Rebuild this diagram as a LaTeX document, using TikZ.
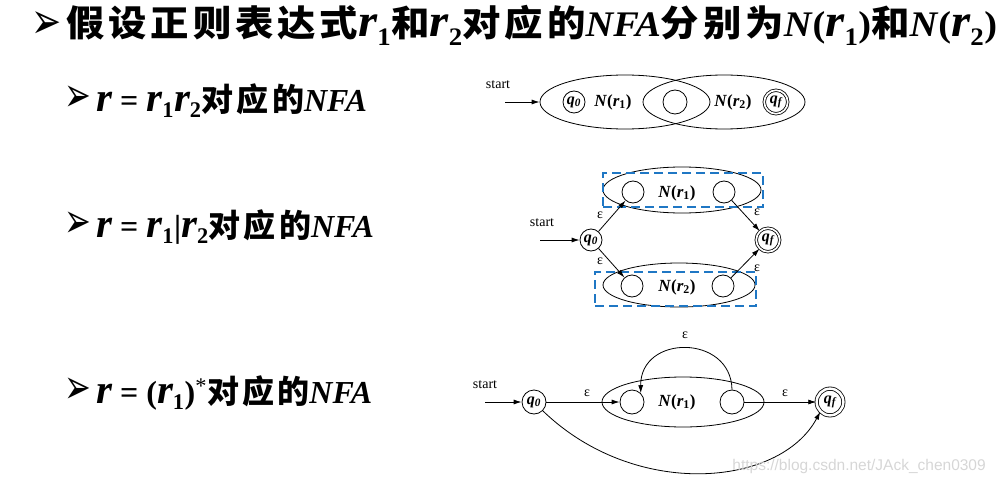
\documentclass[tikz,border=0pt]{standalone}
\usepackage{fontspec}
\usetikzlibrary{arrows.meta,shapes.geometric}
\setmainfont{Liberation Serif}
\newfontfamily\cjk[LetterSpace=10]{Noto Sans CJK SC}
\newfontfamily\dv{DejaVu Sans}
\newfontfamily\wm{Liberation Sans}
\definecolor{dashblue}{RGB}{31,119,196}
\newcommand\bi[1]{{\bfseries\itshape #1}}
\newcommand\R{\scalebox{1.28}{\bi{r}}}
\newcommand\sbb[1]{\textsubscript{\bfseries\upshape #1}}
\newcommand\ch[1]{{\cjk\bfseries #1}}
\newcommand\bul{\scalebox{1}[1.5]{\dv ➢}}
\newcommand\qz{\bi{q}\textsubscript{\bfseries\itshape 0}}
\newcommand\qf{\bi{q}\textsubscript{\bfseries\itshape f}}
\newcommand\Nr[1]{\bi{N}\textbf{(}\bi{r}\textsubscript{\bfseries #1}\textbf{)}}
\newcommand\NR[1]{\bi{N}\textbf{(}\R\sbb{#1}\textbf{)}}
\begin{document}
\begin{tikzpicture}[x=1pt,y=-1pt,line width=0.8pt,
  st/.style={circle,draw,minimum size=22pt,inner sep=0pt,font=\fontsize{16}{16}\selectfont},
  acc/.style={st,double,double distance=1.7pt,minimum size=23.5pt},
  lbl/.style={font=\fontsize{17}{17}\selectfont,inner sep=0pt},
  eps/.style={font=\fontsize{14}{14}\selectfont,inner sep=0pt},
  stt/.style={font=\fontsize{14}{14}\selectfont,inner sep=0pt},
  box/.style={draw,ellipse,inner sep=0pt},
  blu/.style={draw=dashblue,dash pattern=on 9pt off 5pt,line width=2pt,inner sep=0pt},
  arr/.style={-{Latex[length=8pt,width=5pt]}},
  head/.style={anchor=base west,inner sep=0pt}]
\useasboundingbox (0,0) rectangle (1000,484);
% title
\node[head,font=\fontsize{36}{40}\selectfont] (title) at (31,37)
 {\raisebox{-2pt}{\scalebox{1}[1.4]{\dv ➢}}\hspace{5pt}\scalebox{1.066}[1]{\ch{假设正则表达式}\R\sbb{1}\ch{和}\R\sbb{2}\ch{对应的}\bi{NFA}\ch{分别为}\NR{1}\ch{和}\NR{2}}};
% subtitles
\node[head,font=\fontsize{32}{34}\selectfont] (l1) at (64,111)
 {\bul\hspace{5pt}\R{} \textbf{=} \R\sbb{1}\R\sbb{2}\ch{对应的}\bi{NFA}};
\node[head,font=\fontsize{32}{34}\selectfont] (l2) at (64,237)
 {\bul\hspace{5pt}\R{} \textbf{=} \R\sbb{1}\textbf{|}\R\sbb{2}\ch{对应的}\bi{NFA}};
\node[head,font=\fontsize{32}{34}\selectfont] (l3) at (64,403)
 {\bul\hspace{5pt}\R{} \textbf{=} \textbf{(}\R\sbb{1}\textbf{)}\textsuperscript{*}\ch{对应的}\bi{NFA}};
% diagram 1: concatenation
\node[stt] (st1) at (498,85) {start};
\coordinate (s1) at (505,102);
\node[box,minimum width=170pt,minimum height=54pt] (e1a) at (625,102) {};
\node[box,minimum width=162pt,minimum height=54pt] (e1b) at (724,102) {};
\node[st] (d1q0) at (574,102) {\qz};
\node[st,minimum size=24pt] (d1m) at (675,102) {};
\node[lbl] (d1n1) at (613,102) {\Nr{1}};
\node[lbl] (d1n2) at (733,102) {\Nr{2}};
\node[acc] (d1qf) at (776,102) {\qf};
\draw[arr] (s1) -- (e1a.west);
% diagram 2: union
\node[stt] (st2) at (542,223) {start};
\coordinate (s2) at (540,240);
\node[st] (d2q0) at (591,240) {\qz};
\node[box,minimum width=158pt,minimum height=46pt] (e2u) at (682,190) {};
\node[box,minimum width=152pt,minimum height=44pt] (e2l) at (679,285) {};
\node[st] (d2u1) at (633,192) {};
\node[st] (d2u2) at (724,192) {};
\node[st] (d2l1) at (632,286) {};
\node[st] (d2l2) at (723,286) {};
\node[lbl] (d2n1) at (677,193) {\Nr{1}};
\node[lbl] (d2n2) at (677,287) {\Nr{2}};
\node[acc] (d2qf) at (768,240) {\qf};
\node[blu,minimum width=160pt,minimum height=34pt] (b2u) at (683,190) {};
\node[blu,minimum width=161pt,minimum height=34pt] (b2l) at (675.5,289) {};
\draw[arr] (s2) -- (d2q0);
\draw[arr] (d2q0) -- (d2u1);
\draw[arr] (d2q0) -- (d2l1);
\draw[arr] (d2u2) -- (d2qf);
\draw[arr] (d2l2) -- (d2qf);
\node[eps] (e21) at (600,215) {ε};
\node[eps] (e22) at (600,261) {ε};
\node[eps] (e23) at (757,212) {ε};
\node[eps] (e24) at (757,268) {ε};
% diagram 3: closure
\node[stt] (st3) at (485,385) {start};
\coordinate (s3) at (485,402);
\node[st,minimum size=24pt] (d3q0) at (534,402) {\qz};
\node[box,minimum width=162pt,minimum height=50pt] (e3) at (683,402) {};
\node[st,minimum size=24pt] (d3a) at (632,402) {};
\node[st,minimum size=24pt] (d3b) at (732,402) {};
\node[lbl] (d3n) at (677,402) {\Nr{1}};
\node[acc,minimum size=26.7pt,double distance=2.5pt] (d3qf) at (830,402) {\qf};
\draw[arr] (s3) -- (d3q0);
\draw[arr] (d3q0) -- (d3a);
\draw[arr] (d3b) -- (d3qf);
\draw[arr] (d3b.north) .. controls (731,334) and (640,334) .. (d3a.north east);
\draw[arr] (d3q0.south east) .. controls (635,500) and (780,487) .. (d3qf.south west);
\node[eps] (e31) at (587,393) {ε};
\node[eps] (e32) at (785,393) {ε};
\node[eps] (e33) at (685,335) {ε};
% watermark
\node[font=\wm\fontsize{15.5}{16}\selectfont,text=black!16,anchor=west,inner sep=0pt] (wmk) at (732,466) {https://blog.csdn.net/JAck\_chen0309};
\end{tikzpicture}
\end{document}
